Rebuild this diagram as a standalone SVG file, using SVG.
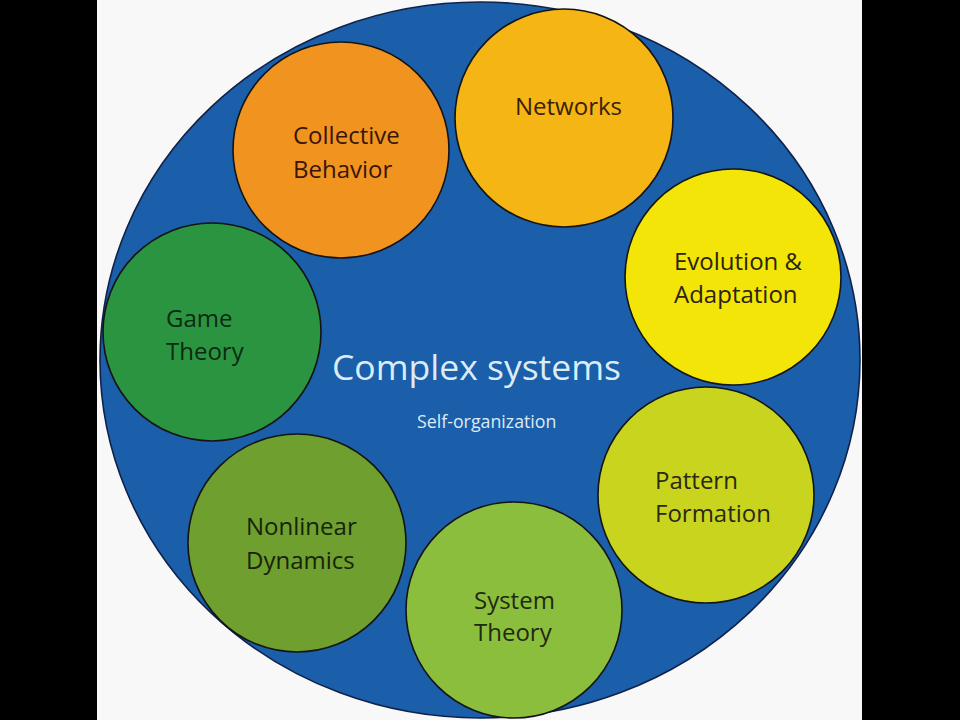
<svg xmlns="http://www.w3.org/2000/svg" width="960" height="720" viewBox="0 0 960 720">
<style>
.node { stroke: #141414; stroke-width: 1.6; }
.lbl { font-family: "Open Sans", "Liberation Sans", sans-serif; font-size: 24px; }
.title { font-family: "Open Sans", "Liberation Sans", sans-serif; fill: #dcecf6; }
</style>
<rect x="0" y="0" width="960" height="720" fill="#000"/>
<rect x="97" y="0" width="765" height="720" fill="#f8f8f8"/>
<g id="complex-systems">
<ellipse cx="480" cy="360" rx="380" ry="358" fill="#1b5ea9" stroke="#10224a" stroke-width="1.6"/>
<text class="title" x="332" y="380" font-size="35.5">Complex systems</text>
<text class="title" x="417" y="428" font-size="17.8">Self-organization</text>
</g>
<g id="collective-behavior">
<circle class="node" cx="341" cy="150" r="108" fill="#f0941f"/>
<text class="lbl" fill="#3a1408"><tspan x="293" y="144">Collective</tspan><tspan x="293" y="178">Behavior</tspan></text>
</g>
<g id="networks">
<circle class="node" cx="564" cy="118" r="109" fill="#f5b514"/>
<text class="lbl" fill="#3a2208" x="515" y="115">Networks</text>
</g>
<g id="evolution-adaptation">
<circle class="node" cx="733" cy="277" r="108" fill="#f4e508"/>
<text class="lbl" fill="#2a2410"><tspan x="674" y="270">Evolution &amp;</tspan><tspan x="674" y="303">Adaptation</tspan></text>
</g>
<g id="pattern-formation">
<circle class="node" cx="706" cy="495" r="108" fill="#c9d41f"/>
<text class="lbl" fill="#2a2a10"><tspan x="655" y="489">Pattern</tspan><tspan x="655" y="522">Formation</tspan></text>
</g>
<g id="system-theory">
<circle class="node" cx="514" cy="610" r="108" fill="#8bbe3c"/>
<text class="lbl" fill="#1e2a10"><tspan x="474" y="609">System</tspan><tspan x="474" y="641">Theory</tspan></text>
</g>
<g id="nonlinear-dynamics">
<circle class="node" cx="297" cy="543" r="109" fill="#6f9f2e"/>
<text class="lbl" fill="#16240a"><tspan x="246" y="535">Nonlinear</tspan><tspan x="246" y="569">Dynamics</tspan></text>
</g>
<g id="game-theory">
<circle class="node" cx="212" cy="332" r="109" fill="#2b9440"/>
<text class="lbl" fill="#0c2a12"><tspan x="166" y="327">Game</tspan><tspan x="166" y="360">Theory</tspan></text>
</g>
</svg>
